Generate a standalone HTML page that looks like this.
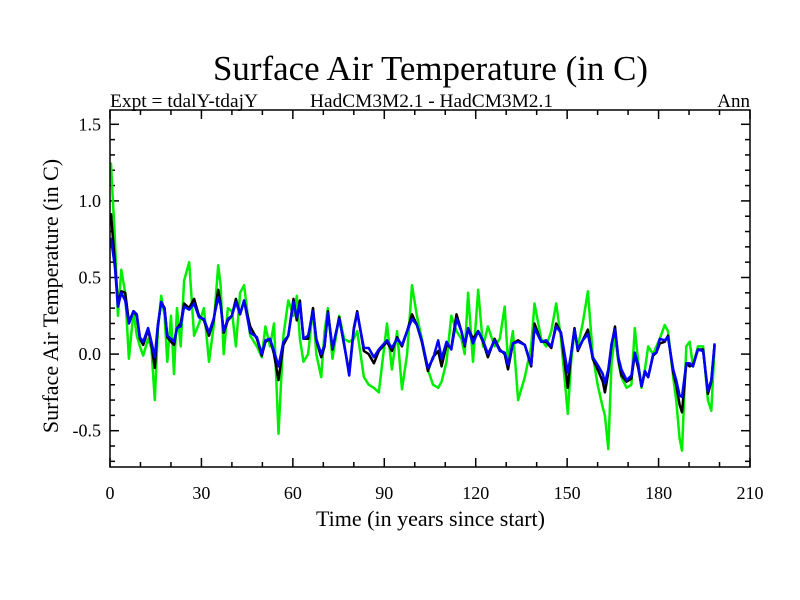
<!DOCTYPE html>
<html><head><meta charset="utf-8"><style>
body{margin:0;background:#fff}
svg{display:block;font-family:"Liberation Serif",serif}
</style></head><body>
<svg id="chart" width="800" height="600" viewBox="0 0 800 600" xmlns="http://www.w3.org/2000/svg">
<rect width="800" height="600" fill="#fff"/>
<text x="213" y="80" font-size="35" textLength="435" lengthAdjust="spacingAndGlyphs">Surface Air Temperature (in C)</text>
<text x="110" y="107" font-size="19" textLength="148" lengthAdjust="spacingAndGlyphs">Expt = tdalY-tdajY</text>
<text x="310" y="107" font-size="19" textLength="243" lengthAdjust="spacingAndGlyphs">HadCM3M2.1 - HadCM3M2.1</text>
<text x="750" y="107" font-size="19" text-anchor="end">Ann</text>
<text x="316" y="526" font-size="22" textLength="229" lengthAdjust="spacingAndGlyphs">Time (in years since start)</text>
<text x="58" y="296" font-size="22" text-anchor="middle" transform="rotate(-90 58 296)">Surface Air Temperature (in C)</text>
<g id="axes"></g>
<g id="series"></g>
<rect x="110" y="110" width="640" height="357" fill="none" stroke="#000" stroke-width="1.5"/>
</svg>
<script>
const years=[0.3,1.6,2.6,3.7,5,6.2,7.7,8.8,9.8,10.9,12.5,13.6,14.7,15.7,16.8,17.9,18.8,20,21,22,23.2,24.3,26,27.6,29.2,30.8,32.5,34,35.5,36.3,37.3,38.7,40,41.3,42.7,44,46,48.2,49.8,51,52.5,53.8,55.3,56.9,58.5,60.2,61.3,62.3,63.5,65,66.6,67.7,69.3,70.4,71.5,73,75.2,76.8,78.5,80,81.1,83.3,84.9,86.6,88.2,90.9,92.5,94.2,95.8,97.5,99.1,100.7,102.3,104.3,106,107.7,108.8,110.4,112,113.7,115.3,116.4,117.5,119.1,120.8,122.4,124,126.2,127.9,129.5,130.6,132.2,133.9,136.1,138.2,139.3,141.5,143.1,144.8,146.4,148,150.2,151.3,152.4,153.5,155.1,156.8,158.4,160,161.7,162.4,163.5,164.6,165.7,166.8,167.8,169.5,171.1,172.2,173.3,174.4,175.5,176.6,178.2,179.3,180.4,182,183.1,184.8,185.8,186.9,187.7,189.1,190.2,191.3,192.9,194.6,196.2,197.3,198.4];
const blueVals=[0.76,0.57,0.31,0.40,0.35,0.20,0.28,0.26,0.11,0.08,0.17,0.08,-0.02,0.19,0.34,0.29,0.12,0.10,0.08,0.17,0.18,0.31,0.29,0.33,0.24,0.23,0.14,0.23,0.37,0.32,0.15,0.23,0.25,0.34,0.26,0.35,0.14,0.11,0.00,0.09,0.10,0.02,-0.08,0.08,0.12,0.34,0.24,0.33,0.10,0.12,0.28,0.10,0.00,0.06,0.27,0.04,0.23,0.07,-0.14,0.16,0.27,0.04,0.04,-0.02,0.03,0.09,0.04,0.10,0.06,0.15,0.23,0.19,0.09,-0.09,-0.03,0.09,-0.03,0.08,0.03,0.23,0.15,0.06,0.17,0.07,0.15,0.09,0.00,0.09,0.02,0.01,-0.07,0.07,0.08,0.06,-0.07,0.17,0.08,0.09,0.05,0.18,0.14,-0.12,0.00,0.16,0.03,0.09,0.13,-0.02,-0.07,-0.13,-0.19,-0.10,0.07,0.16,-0.02,-0.10,-0.17,-0.14,0.01,-0.07,-0.21,-0.11,-0.15,0.00,0.01,0.10,0.09,0.11,-0.10,-0.17,-0.27,-0.28,-0.06,-0.06,-0.08,0.03,0.02,-0.24,-0.17,0.07];
const blackVals=[0.92,0.60,0.33,0.41,0.40,0.21,0.28,0.25,0.10,0.06,0.16,0.06,-0.09,0.18,0.34,0.30,0.11,0.08,0.06,0.17,0.20,0.33,0.30,0.36,0.25,0.22,0.12,0.22,0.42,0.33,0.14,0.22,0.25,0.36,0.26,0.35,0.18,0.10,-0.01,0.08,0.10,0.00,-0.17,0.06,0.12,0.36,0.22,0.35,0.10,0.10,0.30,0.09,-0.02,0.05,0.28,0.03,0.24,0.06,-0.12,0.17,0.28,0.02,0.00,-0.06,0.02,0.08,0.02,0.11,0.05,0.15,0.26,0.19,0.08,-0.11,-0.02,0.02,-0.08,0.06,0.04,0.26,0.15,0.05,0.17,0.10,0.15,0.08,-0.02,0.10,0.03,0.00,-0.10,0.07,0.09,0.06,-0.08,0.20,0.08,0.08,0.04,0.20,0.14,-0.22,0.00,0.17,0.02,0.09,0.16,-0.03,-0.10,-0.18,-0.25,-0.12,0.06,0.18,-0.03,-0.14,-0.18,-0.16,0.00,-0.09,-0.21,-0.12,-0.15,-0.01,0.01,0.07,0.08,0.12,-0.12,-0.20,-0.33,-0.38,-0.06,-0.08,-0.07,0.03,0.03,-0.26,-0.18,0.06];
const greenVals=[1.25,0.75,0.25,0.55,0.40,-0.03,0.28,0.12,0.05,-0.01,0.10,0.04,-0.30,0.15,0.38,0.25,-0.05,0.25,-0.13,0.30,0.05,0.48,0.60,0.12,0.20,0.30,-0.05,0.18,0.58,0.45,0.00,0.30,0.28,0.05,0.40,0.45,0.12,0.05,-0.02,0.18,0.05,0.20,-0.52,0.12,0.35,0.25,0.38,0.10,-0.05,0.00,0.30,0.00,-0.15,0.15,0.30,-0.03,0.25,0.10,0.08,0.10,0.15,-0.15,-0.20,-0.22,-0.25,0.20,-0.10,0.15,-0.23,0.00,0.45,0.25,0.10,-0.10,-0.20,-0.22,-0.18,-0.05,0.25,0.15,0.10,0.00,0.40,-0.05,0.42,0.05,0.18,0.05,0.10,0.31,-0.05,0.15,-0.30,-0.15,0.05,0.33,0.10,0.05,0.15,0.33,0.10,-0.39,-0.05,0.15,0.05,0.20,0.41,0.00,-0.20,-0.35,-0.40,-0.62,-0.05,0.12,-0.05,-0.15,-0.22,-0.20,0.17,-0.05,-0.22,-0.10,0.05,0.00,0.05,0.10,0.19,0.15,-0.15,-0.30,-0.55,-0.63,0.05,0.08,-0.08,0.05,0.05,-0.30,-0.37,0.05];
const xTickLabels=[0,30,60,90,120,150,180,210];
const yTickLabels=[-0.5,0.0,0.5,1.0,1.5];

const X0=110,X1=750,Y0=110,Y1=467;
const xMin=0,xMax=210,yZeroPx=354.1,yScale=153.2;
function xs(v){return X0+(v-xMin)/(xMax-xMin)*(X1-X0);}
function ys(v){return yZeroPx-v*yScale;}
const NS="http://www.w3.org/2000/svg";
const axes=document.getElementById('axes');
function line(x1,y1,x2,y2,name){
  const l=document.createElementNS(NS,'line');
  l.setAttribute('x1',x1);l.setAttribute('y1',y1);l.setAttribute('x2',x2);l.setAttribute('y2',y2);
  l.setAttribute('stroke','#000');l.setAttribute('stroke-width','1.5');
  
  
  axes.appendChild(l);
}
function text(x,y,s,anchor,name){
  const t=document.createElementNS(NS,'text');
  t.setAttribute('x',x);t.setAttribute('y',y);t.setAttribute('font-size','18');t.setAttribute('text-anchor',anchor);
  t.textContent=s;
  
  
  axes.appendChild(t);
}
for(let v=0;v<=210;v+=10){
  const x=xs(v),len=(v%30===0)?9:5;
  line(x,Y1,x,Y1-len,'x-tick');
  line(x,Y0,x,Y0+len,'x-tick-top');
}
xTickLabels.forEach(v=>text(xs(v),Y1+32,String(v),'middle','x-tick-label'));
for(let i=-7;i<=15;i++){
  const v=i/10,y=ys(v),len=(i%5===0)?9:5;
  line(X0,y,X0+len,y,'y-tick');
  line(X1,y,X1-len,y,'y-tick-right');
}
yTickLabels.forEach(v=>text(X0-9,ys(v)+6,v.toFixed(1),'end','y-tick-label'));
const sg=document.getElementById('series');
function series(vals,color,name){
  const p=document.createElementNS(NS,'polyline');
  p.setAttribute('points',years.map((yr,i)=>xs(yr).toFixed(1)+','+ys(vals[i]).toFixed(1)).join(' '));
  p.setAttribute('fill','none');p.setAttribute('stroke',color);p.setAttribute('stroke-width','2.5');
  p.setAttribute('stroke-linejoin','round');
  
  
  sg.appendChild(p);
}
series(greenVals,'#00ee00','green-series');
series(blackVals,'#000000','black-series');
series(blueVals,'#0000ff','blue-series');
</script>
</body></html>
